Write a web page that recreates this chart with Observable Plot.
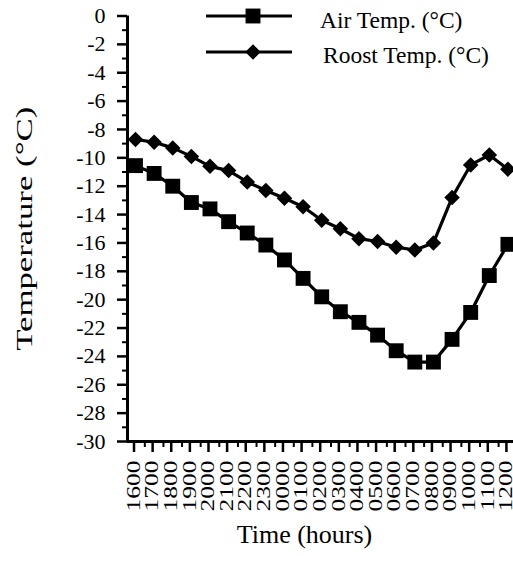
<!DOCTYPE html>
<html>
<head>
<meta charset="utf-8">
<script src="https://cdn.jsdelivr.net/npm/d3@7"></script>
<script src="https://cdn.jsdelivr.net/npm/@observablehq/plot@0.6"></script>
<style>
  body { margin: 0; background: #fff; }
  #wrap { position: relative; width: 513px; height: 564px; font-family: "Liberation Serif", serif; }
  #legend { position: absolute; left: 0; top: 0; pointer-events: none; }
</style>
</head>
<body>
<div id="wrap"></div>
<script>
// ---- data ----
const times = ["1600","1700","1800","1900","2000","2100","2200","2300","0000","0100","0200","0300","0400","0500","0600","0700","0800","0900","1000","1100","1200"];
const airTemp = [-10.55,-11.1,-12.0,-13.15,-13.6,-14.5,-15.3,-16.15,-17.2,-18.5,-19.8,-20.85,-21.6,-22.5,-23.6,-24.4,-24.4,-22.8,-20.9,-18.3,-16.1];
const roostTemp = [-8.7,-8.9,-9.3,-9.9,-10.6,-10.9,-11.7,-12.3,-12.85,-13.45,-14.4,-15.0,-15.7,-15.9,-16.3,-16.5,-16.0,-12.8,-10.5,-9.8,-10.8];
const seriesNames = ["Air Temp. (°C)", "Roost Temp. (°C)"];
const yMajorTicks = [0,-2,-4,-6,-8,-10,-12,-14,-16,-18,-20,-22,-24,-26,-28,-30];
const yMinorTicks = [-1,-3,-5,-7,-9,-11,-13,-15,-17,-19,-21,-23,-25,-27,-29];
const yLabel = "Temperature (°C)";
const xLabel = "Time (hours)";

// ---- derived tables ----
const rows = times.map((t, i) => ({i, t, air: airTemp[i], roost: roostTemp[i]}));
const xMajor = rows.map(d => d.i);
const xMinor = rows.slice(1).map(d => d.i - 0.5);
const xDomain = [-0.43, 20.3];
const yDomain = [-30, 0];

const chart = Plot.plot({
  width: 513, height: 564,
  marginLeft: 127, marginRight: 0, marginTop: 15.5, marginBottom: 123,
  style: {fontFamily: '"Liberation Serif", serif', fontSize: "21px", color: "black", background: "white", overflow: "visible"},
  x: {type: "linear", domain: xDomain},
  y: {domain: yDomain},
  marks: [
    Plot.axisY(yMajorTicks, {tickSize: 10, tickPadding: 12, strokeWidth: 2.5, fontSize: 22, tickFormat: d => String(d), label: null}),
    Plot.axisY(yMinorTicks, {tickSize: 5, strokeWidth: 2, tickFormat: () => "", label: null}),
    Plot.axisX(xMajor, {tickSize: 11, tickPadding: 8, tickRotate: -90, strokeWidth: 2.5, fontSize: 18, dx: -1.5, tickFormat: i => times[i], label: null}),
    Plot.axisX(xMinor, {tickSize: 6, strokeWidth: 2, tickFormat: () => "", label: null}),
    Plot.ruleX([xDomain[0]], {strokeWidth: 3}),
    Plot.ruleY([yDomain[0]], {strokeWidth: 3}),
    Plot.line(rows, {x: "i", y: "air", strokeWidth: 3.2, stroke: "black"}),
    Plot.dot(rows, {x: "i", y: "air", symbol: "square", r: 8.4, fill: "black", stroke: "none"}),
    Plot.line(rows, {x: "i", y: "roost", strokeWidth: 3.2, stroke: "black"}),
    Plot.dot(rows, {x: "i", y: "roost", symbol: "diamond2", r: 7, fill: "black", stroke: "none"}),
    Plot.text([yLabel], {text: d => d, frameAnchor: "left", textAnchor: "middle", lineAnchor: "middle", dx: -103, rotate: -90, fontSize: 24}),
    Plot.text([xLabel], {text: d => d, frameAnchor: "bottom", textAnchor: "middle", lineAnchor: "middle", dy: 93, dx: -16, fontSize: 26})
  ]
});

const wrap = document.getElementById("wrap");
wrap.appendChild(chart);

// stretch rotated texts along their length (as in the scanned original)
chart.querySelectorAll("text").forEach(t => {
  const tr = t.getAttribute("transform");
  if (!tr || !tr.includes("rotate")) return;
  const s = t.textContent === yLabel ? 1.45 : times.includes(t.textContent) ? 1.42 : 1;
  if (s !== 1) t.setAttribute("transform", tr + ` scale(${s},1)`);
});

// legend overlay
const leg = d3.select(wrap).append("svg").attr("id", "legend").attr("width", 513).attr("height", 80);
const legRows = [
  {name: seriesNames[0], y: 16, sym: d3.symbolSquare, size: 8.4 * 8.4 * Math.PI, tx: 320, ty: 28},
  {name: seriesNames[1], y: 52, sym: d3.symbolDiamond2, size: 7 * 7 * Math.PI, tx: 323, ty: 63}
];
legRows.forEach(r => {
  leg.append("line").attr("x1", 206).attr("x2", 292).attr("y1", r.y).attr("y2", r.y).attr("stroke", "black").attr("stroke-width", 3);
  leg.append("path").attr("d", d3.symbol(r.sym, r.size)()).attr("transform", `translate(253,${r.y})`).attr("fill", "black");
  leg.append("text").attr("x", r.tx).attr("y", r.ty).attr("font-family", '"Liberation Serif", serif').attr("font-size", "23.5px").attr("fill", "black").text(r.name);
});
</script>
</body>
</html>
